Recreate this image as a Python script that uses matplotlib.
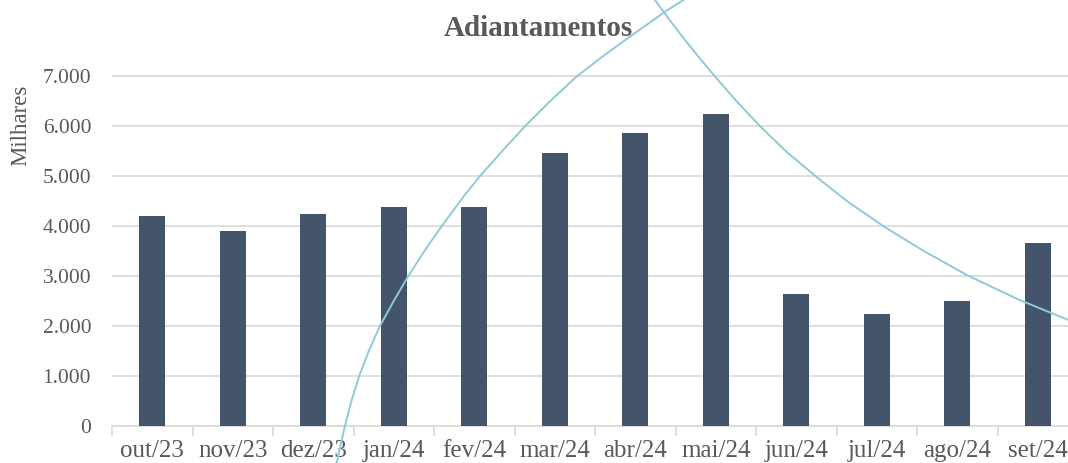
import matplotlib
matplotlib.use("Agg")
import matplotlib.pyplot as plt
from matplotlib.ticker import FuncFormatter, FixedLocator

categories = ["out/23", "nov/23", "dez/23", "jan/24", "fev/24", "mar/24",
              "abr/24", "mai/24", "jun/24", "jul/24", "ago/24", "set/24"]
values = [4210, 3910, 4240, 4390, 4390, 5460, 5860, 6250, 2640, 2230, 2500, 3665]

# trend curves (x in category index units)
trend_up_x = [2.291, 2.394, 2.478, 2.572, 2.690, 2.829, 3.000, 3.181, 3.380, 3.596,
              3.880, 4.070, 4.345, 4.630, 4.940, 5.273, 5.620, 5.990, 6.370, 6.600]
trend_up_y = [-747, 0, 515, 1000, 1500, 2000, 2500, 3000, 3500, 4000,
              4620, 5000, 5500, 6000, 6500, 7000, 7430, 7860, 8297, 8531]
trend_down_x = [6.245, 6.432, 6.618, 6.804, 6.991, 7.260, 7.550, 7.881, 8.254, 8.627,
                9.103, 9.578, 10.137, 10.780, 11.376]
trend_down_y = [8531, 8120, 7729, 7357, 6996, 6501, 6002, 5486, 4982, 4505,
                3977, 3507, 3004, 2515, 2122]

yticks = [0, 1000, 2000, 3000, 4000, 5000, 6000, 7000]

W, H = 1068, 463
fig = plt.figure(figsize=(W / 100, H / 100), dpi=100)
left, right = 112, 1078
zero_px, top_px = 425.7, 0
ax = fig.add_axes([left / W, (H - zero_px) / H, (right - left) / W, (zero_px - top_px) / H])

serif = ["Liberation Serif", "DejaVu Serif"]
gray = "#595959"
grid_c = "#d9d9d9"

x = list(range(len(categories)))
ax.bar(x, values, width=0.32, color="#44546a", zorder=3)
ax.plot(trend_up_x, trend_up_y, color="#8ecad7", lw=1.4, clip_on=False, zorder=4,
        solid_joinstyle="round")
ax.plot(trend_down_x, trend_down_y, color="#8ecad7", lw=1.4, clip_on=False, zorder=4,
        solid_joinstyle="round")

ax.set_xlim(-0.5, len(categories) - 0.5)
ax.set_ylim(0, 8531)

ax.yaxis.set_major_locator(FixedLocator(yticks))
ax.yaxis.set_major_formatter(FuncFormatter(lambda v, p: f"{int(v):,}".replace(",", ".")))
ax.grid(axis="y", color=grid_c, lw=1.2, zorder=0)
ax.set_axisbelow(True)

ax.set_xticks(x)
ax.set_xticklabels(categories)
ax.set_xticks([i - 0.5 for i in range(len(categories) + 1)], minor=True)
ax.tick_params(axis="x", which="major", length=0, pad=10, labelsize=18, labelcolor=gray)
ax.tick_params(axis="x", which="minor", length=7, width=1.2, color=grid_c)
ax.tick_params(axis="y", length=0, pad=15, labelsize=15.5, labelcolor=gray)
for lab in ax.get_xticklabels() + ax.get_yticklabels():
    lab.set_family(serif)

for s in ["top", "right", "left"]:
    ax.spines[s].set_visible(False)
ax.spines["bottom"].set_color(grid_c)
ax.spines["bottom"].set_linewidth(1.2)

fig.text(21 / W, 1 - 125 / H, "Milhares", rotation=90, ha="center", va="center",
         fontsize=16.5, color=gray, family=serif)
fig.text(538 / W, 1 - 28 / H, "Adiantamentos", ha="center", va="center",
         fontsize=21, fontweight="bold", color=gray, family=serif)

fig.savefig("out.png", dpi=100)
